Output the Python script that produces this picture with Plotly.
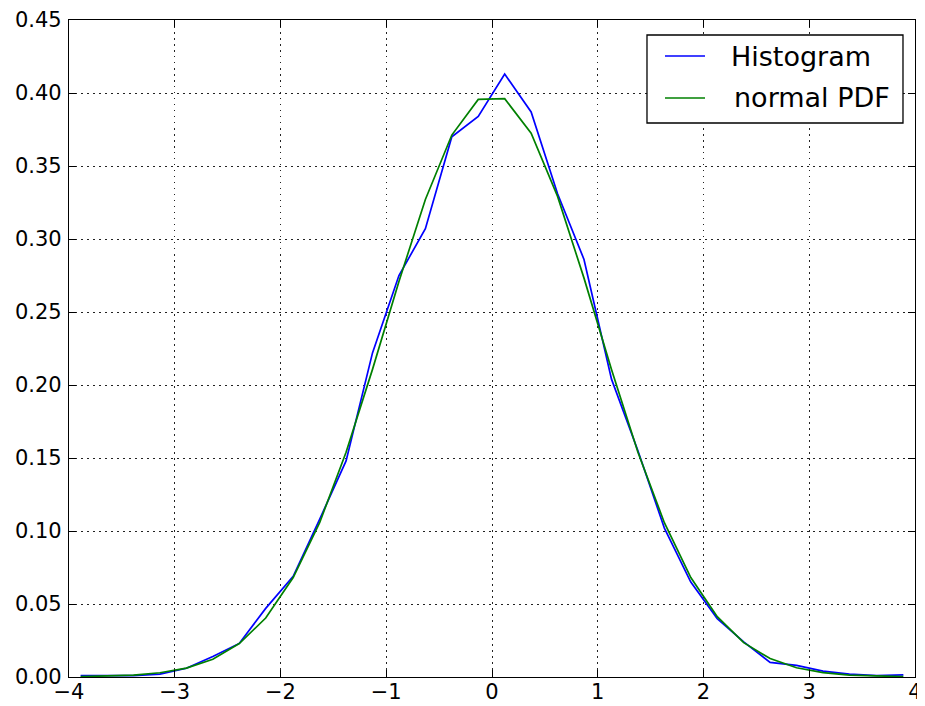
import plotly.graph_objects as go

# bin centers
x_centers = [-3.89, -3.64, -3.39, -3.14, -2.89, -2.64, -2.39, -2.14, -1.88, -1.63,
             -1.38, -1.13, -0.88, -0.63, -0.38, -0.13, 0.12, 0.37, 0.62, 0.87,
             1.13, 1.38, 1.63, 1.88, 2.13, 2.38, 2.63, 2.88, 3.13, 3.38, 3.64, 3.89]

hist_density = [0.001, 0.001, 0.001, 0.002, 0.006, 0.014, 0.023, 0.047, 0.069, 0.108,
                0.148, 0.222, 0.275, 0.307, 0.370, 0.384, 0.413, 0.387, 0.331, 0.286,
                0.204, 0.155, 0.102, 0.065, 0.040, 0.024, 0.010, 0.008, 0.004, 0.002,
                0.001, 0.0015]

normal_pdf = [0.0002, 0.0005, 0.0013, 0.0029, 0.0061, 0.0122, 0.0229, 0.0404, 0.0681, 0.1057,
              0.1539, 0.2107, 0.2709, 0.3271, 0.3712, 0.3956, 0.3961, 0.3725, 0.3292, 0.2732,
              0.2107, 0.1539, 0.1057, 0.0681, 0.0413, 0.0235, 0.0126, 0.0063, 0.0030, 0.0013,
              0.0005, 0.0002]

series_names = ["Histogram", "normal PDF"]
series_colors = ["#0000ff", "#008000"]

x_ticks = [-4, -3, -2, -1, 0, 1, 2, 3, 4]
x_tick_labels = ["\u22124", "\u22123", "\u22122", "\u22121", "0", "1", "2", "3", "4"]
y_ticks = [0.00, 0.05, 0.10, 0.15, 0.20, 0.25, 0.30, 0.35, 0.40, 0.45]

fig = go.Figure()
fig.add_trace(go.Scatter(x=x_centers, y=hist_density, mode="lines", name=series_names[0],
                         line=dict(color=series_colors[0], width=1.7), showlegend=False))
fig.add_trace(go.Scatter(x=x_centers, y=normal_pdf, mode="lines", name=series_names[1],
                         line=dict(color=series_colors[1], width=1.7), showlegend=False))

tick_font = dict(family="DejaVu Sans", size=21, color="black")
axis_common = dict(showline=True, linecolor="black", linewidth=1.3, mirror="allticks",
                   ticks="inside", ticklen=7, tickcolor="black", tickwidth=1,
                   showgrid=True, gridcolor="#222222", gridwidth=1, griddash="1.5px,4.5px",
                   zeroline=False, tickfont=tick_font, automargin=False)

fig.update_xaxes(range=[-4, 4], tickvals=x_ticks, ticktext=x_tick_labels,
                 ticklabelstandoff=-4, **axis_common)
fig.update_yaxes(range=[0, 0.45], tickvals=y_ticks, tickformat=".2f",
                 ticklabelstandoff=2, **axis_common)

# matplotlib-style legend box (drawn in paper coordinates)
shapes = [dict(type="rect", xref="paper", yref="paper", x0=0.6832, x1=0.9858,
               y0=0.8432, y1=0.9772, line=dict(color="black", width=1.3),
               fillcolor="white", layer="above")]
annotations = []
legend_rows_y = [0.9452, 0.8813]
legend_text_x = [0.7802, 0.7837]
for name, color, ry, tx in zip(series_names, series_colors, legend_rows_y, legend_text_x):
    shapes.append(dict(type="line", xref="paper", yref="paper", x0=0.7045, x1=0.7518,
                       y0=ry, y1=ry, line=dict(color=color, width=1.7), layer="above"))
    annotations.append(dict(xref="paper", yref="paper", x=tx, y=ry, text=name,
                            showarrow=False, xanchor="left", yanchor="middle",
                            font=dict(family="DejaVu Sans", size=27, color="black")))

# the page body adds an 8px offset, so the figure is sized to the visible window
fig.update_layout(
    width=917, height=698,
    margin=dict(l=61, r=10, t=12, b=29),
    plot_bgcolor="white", paper_bgcolor="white",
    font=tick_font,
    showlegend=False,
    shapes=shapes,
    annotations=annotations,
)

fig.write_html("out.html")
